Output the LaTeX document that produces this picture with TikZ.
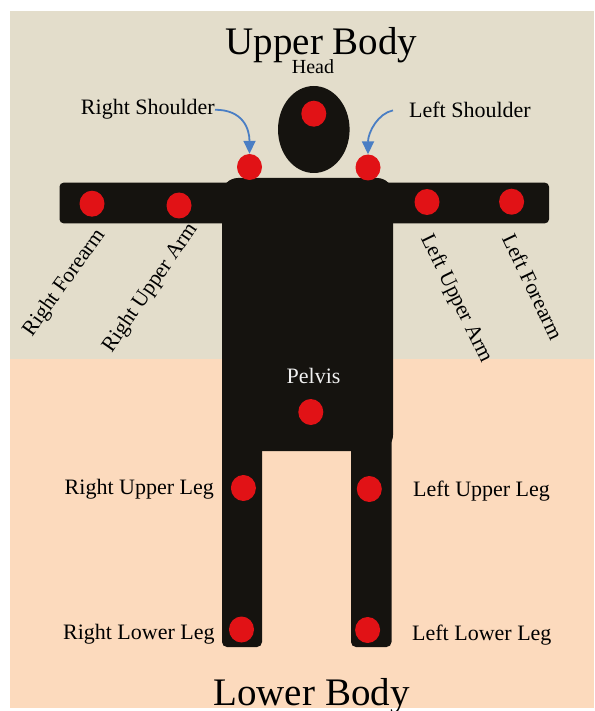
\documentclass[tikz,border=0pt]{standalone}
\usepackage{fontspec}
\setmainfont{Liberation Serif}
\usetikzlibrary{shapes.geometric, arrows.meta}

\definecolor{upperbg}{RGB}{227,221,203}
\definecolor{lowerbg}{RGB}{252,218,189}
\definecolor{bodyblack}{RGB}{21,19,15}
\definecolor{markred}{RGB}{225,18,22}
\definecolor{arrowblue}{RGB}{74,126,196}
\definecolor{paletext}{RGB}{240,240,240}

\begin{document}
\begin{tikzpicture}[x=1pt, y=-1pt,
	dot/.style = {ellipse, fill=markred, minimum width=25pt, minimum height=26pt, inner sep=0pt},
	lbl/.style = {inner sep=0pt, font=\fontsize{22}{26}\selectfont},
	tilted/.style = {inner sep=0pt, font=\fontsize{21.5}{26}\selectfont},
	big/.style = {inner sep=0pt, font=\fontsize{39}{44}\selectfont},
	pointer/.style = {draw=arrowblue, line width=1.8pt, -{Triangle[width=12pt, length=13pt]}}]
	\useasboundingbox (0,0) rectangle (594,711);
	\fill[upperbg] (10,11) rectangle (594,359);
	\fill[lowerbg] (10,359) rectangle (594,708);
	% body
	\fill[bodyblack, rounded corners=16pt] (222,178) rectangle (393,451);
	\fill[bodyblack, rounded corners=5pt] (222,420) rectangle (262,647);
	\fill[bodyblack, rounded corners=5pt] (351,420) rectangle (391.5,647);
	\fill[bodyblack, rounded corners=4pt] (59.5,182.7) rectangle (549,223.3);
	\fill[bodyblack] (313.8,129.5) ellipse [x radius=35.8, y radius=43.5];
	% sensors
	\node[dot] (head) at (313.8,113.7) {};
	\node[dot] (rsh) at (249.5,167) {};
	\node[dot] (lsh) at (368,167.5) {};
	\node[dot] (rfa) at (92,203.7) {};
	\node[dot] (rua) at (179,205.5) {};
	\node[dot] (lua) at (427,202) {};
	\node[dot] (lfa) at (511.6,201.7) {};
	\node[dot] (pelvis) at (310.8,412) {};
	\node[dot] (rul) at (243.4,488) {};
	\node[dot] (lul) at (369.3,489) {};
	\node[dot] (rll) at (241.5,629.5) {};
	\node[dot] (lll) at (367.6,630) {};
	% labels
	\node[big, anchor = base] (upper) at (321.5,55) {Upper Body};
	\node[big, anchor = base] (lower) at (311.5,705) {Lower Body};
	\node[lbl, anchor = base, font=\fontsize{20}{24}\selectfont] (headtext) at (313,74) {Head};
	\node[lbl, anchor = base east] (rshtext) at (215,115) {Right Shoulder};
	\node[lbl, anchor = base west] (lshtext) at (409,118) {Left Shoulder};
	\node[tilted, rotate=54.5] (rfatext) at (64.5,283) {Right Forearm};
	\node[tilted, rotate=55.5] (ruatext) at (150.5,288) {Right Upper Arm};
	\node[tilted, rotate=-64] (luatext) at (456,298.5) {Left Upper Arm};
	\node[tilted, rotate=-64.5] (lfatext) at (533,286.5) {Left Forearm};
	\node[lbl, anchor = base, text=paletext] (pelvistext) at (313.6,383.3) {Pelvis};
	\node[lbl, anchor = base east] (rultext) at (214,494) {Right Upper Leg};
	\node[lbl, anchor = base east] (rlltext) at (214.8,639) {Right Lower Leg};
	\node[lbl, anchor = base west] (lultext) at (412.9,496.7) {Left Upper Leg};
	\node[lbl, anchor = base west] (llltext) at (412,640) {Left Lower Leg};
	% shoulder pointers
	\coordinate (lshtail) at ([xshift=-16pt]lshtext.west);
	\draw[pointer] (rshtext.east) .. controls +(28,0) and +(0,-25) .. (rsh.north);
	\draw[pointer] (lshtail) .. controls +(-15,3) and +(0,-22) .. (lsh.north);
\end{tikzpicture}
\end{document}
